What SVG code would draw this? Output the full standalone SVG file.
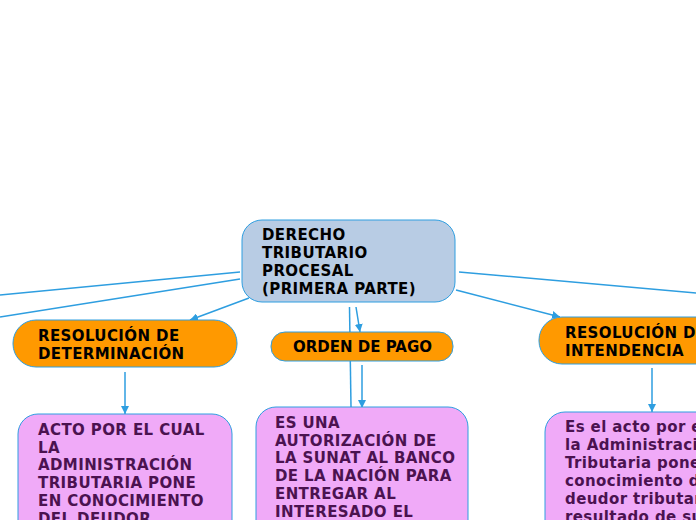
<svg xmlns="http://www.w3.org/2000/svg" width="696" height="520" viewBox="0 0 696 520">
<style>
.c{stroke:#2e9ee0;stroke-width:1.5;fill:none}
.a{marker-end:url(#ah)}
.root{fill:#b8cce4;stroke:#2e9ee0;stroke-width:1}
.or{fill:#ff9900;stroke:#2e9ee0;stroke-width:1}
.pk{fill:#f0aaf8;stroke:#2e9ee0;stroke-width:1}
text{font-family:"DejaVu Sans","Verdana",sans-serif;font-weight:bold;font-size:15px;letter-spacing:0.4px}
.tb{fill:#000}
.tp{fill:#4b1250}
</style>
<defs>
<marker id="ah" viewBox="0 0 10 10" refX="10" refY="5" markerWidth="8" markerHeight="8" markerUnits="userSpaceOnUse" orient="auto">
<path d="M0,0 L10,5 L0,10 z" fill="#2e9ee0"/>
</marker>
</defs>
<g id="connectors">
<line class="c" x1="240" y1="272" x2="0" y2="295"/>
<line class="c" x1="240" y1="279" x2="0" y2="317"/>
<line class="c a" x1="249" y1="298" x2="190" y2="320"/>
<line class="c" x1="459" y1="272" x2="696" y2="293"/>
<line class="c a" x1="456" y1="290" x2="560" y2="317"/>
<line class="c" x1="349.5" y1="307" x2="351" y2="407"/>
<line class="c a" x1="356" y1="307" x2="360" y2="332"/>
<line class="c a" x1="362" y1="365" x2="362" y2="408"/>
<line class="c a" x1="125" y1="372" x2="125" y2="414"/>
<line class="c a" x1="652" y1="368" x2="652" y2="412"/>
</g>
<g id="root">
<rect class="root" x="242" y="220" width="213" height="82" rx="20"/>
<text class="tb" x="262" y="240">DERECHO</text>
<text class="tb" x="262" y="258">TRIBUTARIO</text>
<text class="tb" x="262" y="276">PROCESAL</text>
<text class="tb" x="262" y="294">(PRIMERA PARTE)</text>
</g>
<g id="resolucion-determinacion">
<rect class="or" x="13" y="320" width="224" height="47" rx="23"/>
<text class="tb" x="38" y="341">RESOLUCIÓN DE</text>
<text class="tb" x="38" y="359">DETERMINACIÓN</text>
</g>
<g id="orden-pago">
<rect class="or" x="271" y="332" width="182" height="29" rx="14"/>
<text class="tb" x="293" y="352" style="letter-spacing:0">ORDEN DE PAGO</text>
</g>
<g id="resolucion-intendencia">
<rect class="or" x="539" y="317" width="230" height="47" rx="23"/>
<text class="tb" x="565" y="338">RESOLUCIÓN DE</text>
<text class="tb" x="565" y="356">INTENDENCIA</text>
</g>
<g id="def-determinacion">
<rect class="pk" x="18" y="414" width="214" height="140" rx="20"/>
<text class="tp" x="38" y="435">ACTO POR EL CUAL</text>
<text class="tp" x="38" y="453">LA</text>
<text class="tp" x="38" y="470">ADMINISTRACIÓN</text>
<text class="tp" x="38" y="488">TRIBUTARIA PONE</text>
<text class="tp" x="38" y="506">EN CONOCIMIENTO</text>
<text class="tp" x="38" y="524">DEL DEUDOR</text>
</g>
<g id="def-orden">
<rect class="pk" x="256" y="407" width="212" height="140" rx="20"/>
<text class="tp" x="275" y="428">ES UNA</text>
<text class="tp" x="275" y="446">AUTORIZACIÓN DE</text>
<text class="tp" x="275" y="463">LA SUNAT AL BANCO</text>
<text class="tp" x="275" y="481">DE LA NACIÓN PARA</text>
<text class="tp" x="275" y="499">ENTREGAR AL</text>
<text class="tp" x="275" y="517">INTERESADO EL</text>
</g>
<g id="def-intendencia">
<rect class="pk" x="545" y="412" width="214" height="140" rx="20"/>
<text class="tp" x="565" y="432">Es el acto por el</text>
<text class="tp" x="565" y="450">la Administración</text>
<text class="tp" x="565" y="468">Tributaria pone en</text>
<text class="tp" x="565" y="486">conocimiento del</text>
<text class="tp" x="565" y="504">deudor tributario</text>
<text class="tp" x="565" y="522">resultado de su</text>
</g>
</svg>
